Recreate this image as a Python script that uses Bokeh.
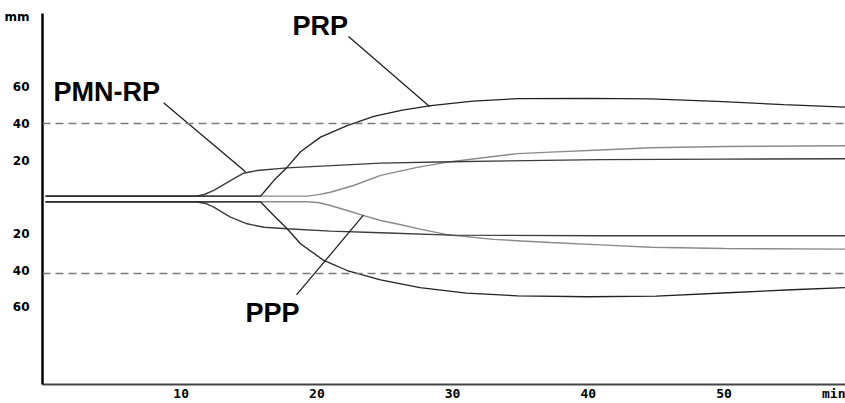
from bokeh.plotting import figure
from bokeh.models import Range1d, FixedTicker, Label, Span
from bokeh.embed import file_html
from bokeh.resources import INLINE

# ---- data: time (min) and amplitude (mm); upper branch (+), lower branch (-)
pmn_up_t = [0, 11.1, 11.7, 12.4, 13.63, 14.6, 15.6, 17.8, 24.7, 29.9, 40.9, 50.0, 59.0]
pmn_up_y = [0.6, 0.6, 1.5, 3.7, 9.1, 13.1, 14.6, 16.0, 18.6, 19.4, 20.5, 20.8, 21.0]
pmn_lo_t = [0, 11.1, 11.8, 12.4, 13.63, 14.86, 16.1, 17.8, 21.0, 24.7, 29.9, 40.9, 59.0]
pmn_lo_y = [-2.5, -2.5, -3.4, -5.4, -10.9, -14.5, -16.4, -17.2, -18.5, -19.4, -20.7, -21.0, -21.0]

prp_up_t = [0, 15.85, 16.3, 16.82, 17.81, 18.79, 20.27, 22.23, 24.19, 26.3, 28.4, 31.5, 34.8, 40.0, 44.6, 49.5, 54.4, 59.0]
prp_up_y = [0.6, 0.6, 4.5, 9.1, 16.4, 24.8, 32.8, 39.1, 44.1, 47.5, 50.0, 52.5, 53.8, 54.0, 53.7, 52.3, 50.5, 49.1]
prp_lo_t = [0, 15.85, 16.3, 16.82, 17.81, 18.79, 20.51, 22.23, 24.69, 27.6, 31.0, 34.8, 40.0, 45.0, 50.7, 55.0, 59.0]
prp_lo_y = [-2.5, -2.5, -6.0, -10.0, -17.2, -25.4, -34.5, -40.0, -45.1, -49.3, -52.3, -53.8, -54.3, -54.0, -52.0, -50.5, -49.3]

ppp_up_t = [0, 19.3, 20.1, 21.0, 22.7, 24.7, 27.4, 29.85, 34.8, 37.2, 40.9, 44.6, 50.0, 59.0]
ppp_up_y = [0.6, 0.6, 1.4, 2.7, 6.4, 11.9, 16.3, 19.4, 23.8, 24.6, 25.8, 27.0, 27.7, 28.1]
ppp_lo_t = [0, 19.3, 20.2, 21.0, 22.23, 23.46, 24.69, 26.2, 27.6, 29.5, 33.0, 37.2, 40.9, 44.6, 50.0, 59.0]
ppp_lo_y = [-2.5, -2.5, -3.0, -4.5, -7.25, -10.0, -12.7, -15.0, -17.4, -20.3, -23.0, -24.7, -26.0, -27.3, -28.0, -28.3]

ref_levels = [40.3, -41.6]           # dashed reference lines (mm)
x_ticks = [10, 20, 30, 40, 50, 58.3]
x_tick_labels = {10: "10", 20: "20", 30: "30", 40: "40", 50: "50", 58.3: "min"}
y_ticks = [-60, -40, -20, 20, 40, 60, 98.6]
y_tick_labels = {-60: "60", -40: "40", -20: "20", 20: "20", 40: "40", 60: "60", 98.6: "mm"}

# annotation labels: text, label centre (t, mm), leader line from -> to
labels = [
    ("PRP", 18.2, 93.7, (22.33, 87.7), (28.3, 49.5)),
    ("PMN-RP", 0.59, 57.7, (8.70, 51.6), (14.74, 13.9)),
    ("PPP", 14.74, -63.2, (18.5, -53.3), (23.43, -9.8)),
]

p = figure(width=845, height=403,
           x_range=Range1d(-0.22, 58.95), y_range=Range1d(-102.2, 100.27),
           output_backend="svg", toolbar_location=None,
           min_border_left=42, min_border_right=0, min_border_top=13, min_border_bottom=19)
p.outline_line_color = None
p.grid.visible = False
p.background_fill_color = "white"

# axes
p.xaxis.ticker = FixedTicker(ticks=x_ticks)
p.xaxis.major_label_overrides = x_tick_labels
p.xaxis.major_tick_line_color = None
p.xaxis.major_tick_out = 0
p.xaxis.minor_tick_line_color = None
p.xaxis.minor_tick_out = 0
p.xaxis.axis_line_color = "#444444"
p.xaxis.axis_line_width = 2
p.xaxis.major_label_standoff = 1
p.xaxis.major_label_text_font = "DejaVu Sans Mono"
p.xaxis.major_label_text_font_style = "bold"
p.xaxis.major_label_text_font_size = "13px"
p.xaxis.major_label_text_color = "black"

p.yaxis.ticker = FixedTicker(ticks=y_ticks)
p.yaxis.major_label_overrides = y_tick_labels
p.yaxis.major_tick_line_color = None
p.yaxis.major_tick_out = 0
p.yaxis.minor_tick_line_color = None
p.yaxis.minor_tick_out = 0
p.yaxis.axis_line_color = "black"
p.yaxis.axis_line_width = 2.5
p.yaxis.major_label_standoff = 13
p.yaxis.major_label_text_font = "DejaVu Sans"
p.yaxis.major_label_text_font_style = "bold"
p.yaxis.major_label_text_font_size = "12px"
p.yaxis.major_label_text_color = "black"

for lv in ref_levels:
    p.add_layout(Span(location=lv, dimension="width", line_color="#7a7a7a",
                      line_width=1.5, line_dash="8 5"))

# traces
p.line(ppp_up_t, ppp_up_y, line_color="#8a8a8a", line_width=1.4)
p.line(ppp_lo_t, ppp_lo_y, line_color="#8a8a8a", line_width=1.4)
p.line(pmn_up_t, pmn_up_y, line_color="#3c3c3c", line_width=1.4)
p.line(pmn_lo_t, pmn_lo_y, line_color="#3c3c3c", line_width=1.4)
p.line(prp_up_t, prp_up_y, line_color="#222222", line_width=1.3)
p.line(prp_lo_t, prp_lo_y, line_color="#222222", line_width=1.3)

# labels with leader lines
for text, lx, ly, a, b in labels:
    p.line([a[0], b[0]], [a[1], b[1]], line_color="#1a1a1a", line_width=1.2)
    p.add_layout(Label(x=lx, y=ly, text=text, text_font="Liberation Sans",
                       text_font_style="bold", text_font_size="27px",
                       text_color="black", text_baseline="middle", text_align="left"))

open("out.html", "w").write(file_html(p, INLINE))
